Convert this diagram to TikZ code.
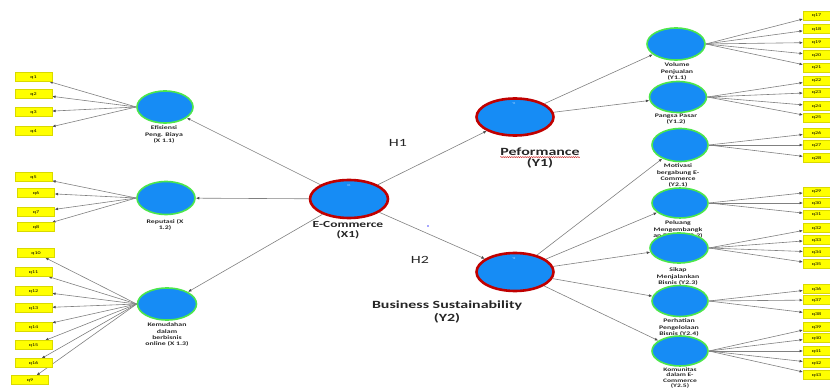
\documentclass[tikz,border=0pt]{standalone}
\usepackage{fontspec}
\setmainfont{Carlito}
\newfontfamily\widefont[FakeStretch=1.45]{Carlito}
\usetikzlibrary{arrows.meta,shapes.geometric,positioning,backgrounds,decorations.pathmorphing}

\definecolor{latblue}{HTML}{168CF5}
\definecolor{latgreen}{HTML}{4CE64C}
\definecolor{latred}{HTML}{C00000}
\definecolor{indyellow}{HTML}{FFFF00}
\definecolor{linegray}{HTML}{808080}

\begin{document}
\begin{tikzpicture}[x=1pt,y=-1pt,
    latent/.style={ellipse,draw=latgreen,line width=1.6pt,fill=latblue,inner sep=0pt},
    higher/.style={ellipse,draw=latred,line width=2.6pt,fill=latblue,inner sep=0pt},
    indl/.style={rectangle,fill=indyellow,draw=indyellow!85!black,line width=0.2pt,
        minimum width=37pt,minimum height=9pt,inner sep=0pt,
        font=\widefont\fontsize{4.2}{5}\selectfont},
    indr/.style={indl,minimum width=27pt,anchor=west},
    lbl/.style={font=\widefont\bfseries\fontsize{5.4}{6.2}\selectfont,align=center,
        text=black!85,inner sep=0pt,anchor=north},
    big/.style={font=\widefont\bfseries\fontsize{#1}{#1}\selectfont,text=black!85,inner sep=0pt},
    tiny/.style={font=\fontsize{3}{3}\selectfont,text=white!75!latblue,inner sep=0pt},
    link/.style={draw=linegray,line width=0.6pt,-{Latex[length=3.5pt,width=2.8pt,color=black!70]}},
]
    \useasboundingbox (0,0) rectangle (830,390);

    % Latent variables
    \node[higher,minimum width=78pt,minimum height=38pt] (ecom) at (349,199) {};
    \node[higher,minimum width=77pt,minimum height=37pt] (perf) at (515,117) {};
    \node[higher,minimum width=77pt,minimum height=38pt] (bus) at (515,272) {};
    \node[latent,minimum width=56pt,minimum height=32pt] (eff) at (165,107) {};
    \node[latent,minimum width=58pt,minimum height=33pt] (rep) at (166,198) {};
    \node[latent,minimum width=59pt,minimum height=32pt] (kem) at (167,304) {};
    \node[latent,minimum width=58pt,minimum height=32pt] (vol) at (676,44) {};
    \node[latent,minimum width=57pt,minimum height=31pt] (pan) at (678,97) {};
    \node[latent,minimum width=56pt,minimum height=33pt] (mot) at (680,145) {};
    \node[latent,minimum width=56pt,minimum height=30pt] (pel) at (680,203) {};
    \node[latent,minimum width=58pt,minimum height=30pt] (sik) at (679,248) {};
    \node[latent,minimum width=56pt,minimum height=31pt] (per) at (680,301) {};
    \node[latent,minimum width=56pt,minimum height=30pt] (kom) at (680,351) {};
    \node[tiny] (ecomt) at (349,186) {X1};
    \node[tiny] (perft) at (514,104) {Y1};
    \node[tiny] (bust) at (514,259) {Y2};

    % Indicators
    \foreach \n/\x/\y in {1/33.5/77,2/33.5/94,3/33.5/112,4/33.5/131,
        5/33.5/177,6/36/193,7/36/212,8/36/227,
        10/36/253,11/33.5/272,12/33.5/291,13/33.5/308,14/33.5/327,15/33.5/345,16/33.5/363,9/30/380}
        \node[indl] (q\n) at (\x,\y) {q\n};
    \foreach \n/\y in {17/15.5,18/29,19/42.5,20/55,21/67.5,22/80.5,23/92.5,24/106,25/117.5,
        26/133,27/145,28/158,29/191.5,30/203,31/214.5,32/228,33/240,34/252,35/264,
        36/289,37/300,38/314,39/327,40/338,41/351,42/363,43/375}
        \node[indr] (q\n) at (803,\y) {q\n};

    \begin{scope}[on background layer]
        % Structural paths
        \draw[link] (ecom) -- (eff);
        \draw[link] (ecom) -- (rep);
        \draw[link] (ecom) -- (kem);
        \draw[link] (ecom) -- (perf);
        \draw[link] (ecom) -- (bus);
        \draw[link] (perf) -- (vol);
        \draw[link] (perf) -- (pan);
        \foreach \t in {mot,pel,sik,per,kom}
            \draw[link] (bus) -- (\t);
        % Loadings
        \foreach \i in {1,...,4} \draw[link] (eff.west) -- (q\i);
        \foreach \i in {5,...,8} \draw[link] (rep.west) -- (q\i);
        \foreach \i in {9,...,16} \draw[link] (kem.west) -- (q\i);
        \foreach \i in {17,...,21} \draw[link] (vol.east) -- (q\i);
        \foreach \i in {22,...,25} \draw[link] (pan.east) -- (q\i);
        \foreach \i in {26,...,28} \draw[link] (mot.east) -- (q\i);
        \foreach \i in {29,...,31} \draw[link] (pel.east) -- (q\i);
        \foreach \i in {32,...,35} \draw[link] (sik.east) -- (q\i);
        \foreach \i in {36,...,38} \draw[link] (per.east) -- (q\i);
        \foreach \i in {39,...,43} \draw[link] (kom.east) -- (q\i);
        % Labels of the dimensions
        \node[lbl] (effl) at (164,126) {Efisiensi\\Peng. Biaya\\(X 1.1)};
        \node[lbl] (repl) at (165,219) {Reputasi (X\\1.2)};
        \node[lbl] (keml) at (167,323) {Kemudahan\\dalam\\berbisnis\\online (X 1.3)};
        \node[lbl] (voll) at (677,63) {Volume\\Penjualan\\(Y1.1)};
        \node[lbl] (panl) at (676,114) {Pangsa Pasar\\(Y1.2)};
        \node[lbl] (motl) at (678,164) {Motivasi\\bergabung E-\\Commerce\\(Y2.1)};
        \node[lbl] (pell) at (678,221) {Peluang\\Mengembangk\\an Bisnis (Y2.2)};
        \node[lbl] (sikl) at (678,268) {Sikap\\Menjalankan\\Bisnis (Y2.3)};
        \node[lbl] (perl) at (679,319) {Perhatian\\Pengelolaan\\Bisnis (Y2.4)};
        \node[lbl,font=\widefont\bfseries\fontsize{5.2}{5.5}\selectfont] (koml) at (680,367.5)
            {Komunitas\\dalam E-\\Commerce\\(Y2.5)};
    \end{scope}

    % Construct labels
    \node[big=9.3,align=center,anchor=north] (ecoml) at (348,221) {E-Commerce\\[0.5pt](X1)};
    \node[big=11] (perfl) at (540,152) {Peformance};
    \node[big=11] (perfyl) at (540,163) {(Y1)};
    \draw[latred,line width=0.4pt,decorate,decoration={snake,amplitude=0.5pt,segment length=2.2pt}]
        ([yshift=-1pt]perfl.south west) -- ([yshift=-1pt]perfl.south east);
    \node[big=11] (busl) at (447,306) {Business Sustainability};
    \node[big=11] (busyl) at (447,318) {(Y2)};
    \node[font=\widefont\fontsize{11}{11}\selectfont,text=black!85] (h1) at (398,143) {H1};
    \node[font=\widefont\fontsize{11}{11}\selectfont,text=black!85] (h2) at (420,260) {H2};
    \fill[blue!70] (428,226) circle (0.8);
\end{tikzpicture}
\end{document}
